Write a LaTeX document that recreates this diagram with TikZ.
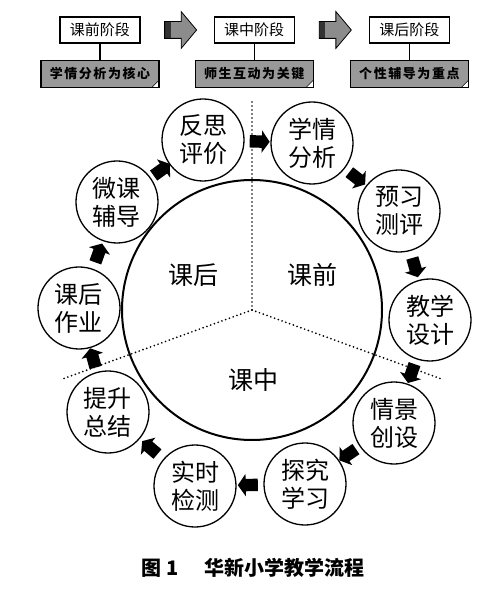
\documentclass[tikz,border=0pt]{standalone}
\usepackage{fontspec}
\usepackage{tikz}
\usetikzlibrary{positioning,shapes.arrows}
\setmainfont{Noto Sans CJK SC}
\newfontfamily\cjkwide{Noto Sans CJK SC}[LetterSpace=12]

\begin{document}
\begin{tikzpicture}[
    x=1pt, y=1pt,
    node distance=16pt,
    stagebox/.style={rectangle, draw, line width=1.2pt, fill=white, minimum width=80pt, minimum height=26pt, inner sep=0pt, font=\fontsize{15}{15}\selectfont},
    keybox/.style={rectangle, draw, line width=1.4pt, fill=black!40, minimum width=118pt, minimum height=27pt, inner sep=0pt, font=\cjkwide\bfseries\fontsize{13}{13}\selectfont,
        path picture={
            \fill[white] ([xshift=-7pt]path picture bounding box.south east) -- (path picture bounding box.south east) -- ([yshift=7pt]path picture bounding box.south east) -- cycle;
            \draw[line width=0.6pt] ([xshift=-7pt]path picture bounding box.south east) -- ([yshift=7pt]path picture bounding box.south east);
        }},
    stagearrow/.style={single arrow, draw, line width=0.8pt, fill=black!45, minimum height=32pt, inner sep=8pt, single arrow head extend=10pt, single arrow tip angle=100,
        path picture={
            \fill[black!80] (path picture bounding box.south west) rectangle ([xshift=6pt]path picture bounding box.north west);
        }},
    phase/.style={circle, draw, line width=2pt, minimum size=260pt, inner sep=0pt},
    phasetext/.style={font=\fontsize{25}{25}\selectfont},
    stepnode/.style={circle, draw, line width=1.3pt, fill=white, minimum size=82pt, inner sep=0pt, align=center, font=\fontsize{24}{28}\selectfont},
    flow/.style={single arrow, fill=black, minimum height=20pt, inner sep=6pt, single arrow head extend=5pt, single arrow tip angle=110, sloped, allow upside down},
    divider/.style={line width=1.9pt, line cap=round, dash pattern=on 0pt off 4pt}
]
    \useasboundingbox (-252,-286) rectangle (248,310);

    % stages on top
    \node[stagebox] (pre) at (-152,280) {课前阶段};
    \node[stagebox, right=73pt of pre] (mid) {课中阶段};
    \node[stagebox, right=74pt of mid] (post) {课后阶段};
    \node[keybox, below=of pre] (prekey) {学情分析为核心};
    \node[keybox, below=of mid] (midkey) {师生互动为关键};
    \node[keybox, below=of post] (postkey) {个性辅导为重点};

    \draw[line width=1.2pt] (pre) -- (prekey);
    \draw[line width=1.2pt] (mid) -- (midkey);
    \draw[line width=1.2pt] (post) -- (postkey);

    \path (pre) -- node[stagearrow] {} (mid);
    \path (mid) -- node[stagearrow] {} (post);

    % big circle
    \node[phase] (kc) at (0,0) {};
    \coordinate (dtop) at (90:210);
    \coordinate (dleft) at (200:200);
    \coordinate (dright) at (340:203);
    \draw[divider] (kc.center) -- (dtop);
    \draw[divider] (kc.center) -- (dleft);
    \draw[divider] (kc.center) -- (dright);

    \node[phasetext] (kehou) at (-59,35) {课后};
    \node[phasetext] (keqian) at (60,35) {课前};
    \node[phasetext] (kezhong) at (1,-70) {课中};

    % steps
    \node[stepnode] (fansi) at (-49,170) {反思\\评价};
    \node[stepnode] (xueqing) at (60,167) {学情\\分析};
    \node[stepnode] (yuxi) at (147,99) {预习\\测评};
    \node[stepnode] (jiaoxue) at (178,-10) {教学\\设计};
    \node[stepnode] (qingjing) at (142,-113) {情景\\创设};
    \node[stepnode] (tanjiu) at (53,-174) {探究\\学习};
    \node[stepnode] (shishi) at (-57,-176) {实时\\检测};
    \node[stepnode] (tisheng) at (-144,-102) {提升\\总结};
    \node[stepnode] (zuoye) at (-173,2) {课后\\作业};
    \node[stepnode] (weike) at (-135,108) {微课\\辅导};

    \path (fansi) -- node[flow] {} (xueqing);
    \path (xueqing) -- node[flow] {} (yuxi);
    \path (yuxi) -- node[flow] {} (jiaoxue);
    \path (jiaoxue) -- node[flow] {} (qingjing);
    \path (qingjing) -- node[flow] {} (tanjiu);
    \path (tanjiu) -- node[flow] {} (shishi);
    \path (shishi) -- node[flow] {} (tisheng);
    \path (tisheng) -- node[flow] {} (zuoye);
    \path (zuoye) -- node[flow] {} (weike);
    \path (weike) -- node[flow] {} (fansi);

    \node[font=\bfseries\fontsize{20}{20}\selectfont] (caption) at (1,-258) {图 1\hspace{1.3em}华新小学教学流程};
\end{tikzpicture}
\end{document}
